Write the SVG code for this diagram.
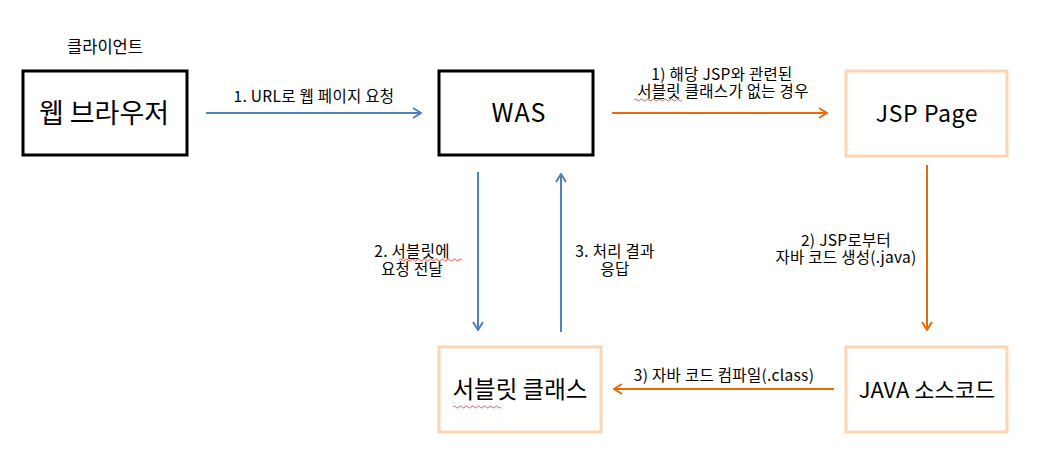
<svg xmlns="http://www.w3.org/2000/svg" width="1038" height="457" viewBox="0 0 1038 457">
<defs>
<style>
text{font-family:"Noto Sans CJK KR","Noto Sans",sans-serif;fill:#000;text-anchor:middle}
.lbl{font-size:15.5px;letter-spacing:0.3px}
.bk{fill:#fff;stroke:#000;stroke-width:3}
.pk{fill:#fff;stroke:#fbd5b5;stroke-width:3}
.blue{stroke:#4f81bd;stroke-width:2;fill:none}
.or{stroke:#e46c0a;stroke-width:2;fill:none}
.sq{stroke:#e03030;stroke-width:0.8;fill:none}
</style>
<marker id="ab" viewBox="0 0 10 12" refX="9" refY="6" markerWidth="10" markerHeight="12" markerUnits="userSpaceOnUse" orient="auto"><path d="M1,1 L9,6 L1,11" fill="none" stroke="#4f81bd" stroke-width="2"/></marker>
<marker id="ao" viewBox="0 0 10 12" refX="9" refY="6" markerWidth="10" markerHeight="12" markerUnits="userSpaceOnUse" orient="auto"><path d="M1,1 L9,6 L1,11" fill="none" stroke="#e46c0a" stroke-width="2"/></marker>
</defs>
<rect width="1038" height="457" fill="#fff"/>
<text x="105" y="53" style="font-size:16.5px">클라이언트</text>
<g id="browser"><rect class="bk" x="23" y="71" width="164" height="84"/><text x="104" y="123" style="font-size:27px">웹 브라우저</text></g>
<g id="was"><rect class="bk" x="439" y="71" width="154" height="84"/><text x="519" y="122" style="font-size:25px;letter-spacing:1px">WAS</text></g>
<g id="jsp"><rect class="pk" x="846" y="71" width="161" height="85"/><text x="927" y="122" style="font-size:23px;letter-spacing:0.6px">JSP Page</text></g>
<g id="java"><rect class="pk" x="846" y="347" width="161" height="85"/><text x="927" y="398" style="font-size:22px">JAVA 소스코드</text></g>
<g id="servlet"><rect class="pk" x="439" y="347" width="162" height="85"/><text x="520" y="398" style="font-size:23.5px">서블릿 클래스</text></g>
<g id="connectors">
<line class="blue" x1="206" y1="113" x2="421" y2="113" marker-end="url(#ab)"/>
<line class="or" x1="612" y1="113" x2="827" y2="113" marker-end="url(#ao)"/>
<line class="or" x1="927" y1="165" x2="927" y2="330" marker-end="url(#ao)"/>
<line class="or" x1="834" y1="389" x2="614" y2="389" marker-end="url(#ao)"/>
<line class="blue" x1="478" y1="172" x2="478" y2="330" marker-end="url(#ab)"/>
<line class="blue" x1="561" y1="332" x2="561" y2="174" marker-end="url(#ab)"/>
</g>
<g id="labels">
<text class="lbl" x="314" y="102">1. URL로 웹 페이지 요청</text>
<text class="lbl"><tspan x="722" y="80">1) 해당 JSP와 관련된</tspan><tspan x="723" y="97">서블릿 클래스가 없는 경우</tspan></text>
<text class="lbl"><tspan x="846" y="246">2) JSP로부터</tspan><tspan x="846" y="263">자바 코드 생성(.java)</tspan></text>
<text class="lbl" x="724" y="381">3) 자바 코드 컴파일(.class)</text>
<text class="lbl"><tspan x="412" y="257">2. 서블릿에</tspan><tspan x="412" y="275">요청 전달</tspan></text>
<text class="lbl"><tspan x="615" y="257">3. 처리 결과</tspan><tspan x="615" y="275">응답</tspan></text>
</g>
<g id="squiggles">
<path class="sq" d="M634,100 q1.5,-2 3,0 t3,0 t3,0 t3,0 t3,0 t3,0 t3,0 t3,0 t3,0 t3,0 t3,0 t3,0 t3,0 t3,0 t3,0 t3,0"/>
<path class="sq" d="M399,260 q1.5,-2 3,0 t3,0 t3,0 t3,0 t3,0 t3,0 t3,0 t3,0 t3,0 t3,0 t3,0 t3,0 t3,0 t3,0 t3,0 t3,0 t3,0 t3,0 t3,0 t3,0 t3,0"/>
<path class="sq" d="M453,407 q1.5,-2 3,0 t3,0 t3,0 t3,0 t3,0 t3,0 t3,0 t3,0 t3,0 t3,0 t3,0 t3,0 t3,0 t3,0 t3,0 t3,0"/>
</g>
</svg>
